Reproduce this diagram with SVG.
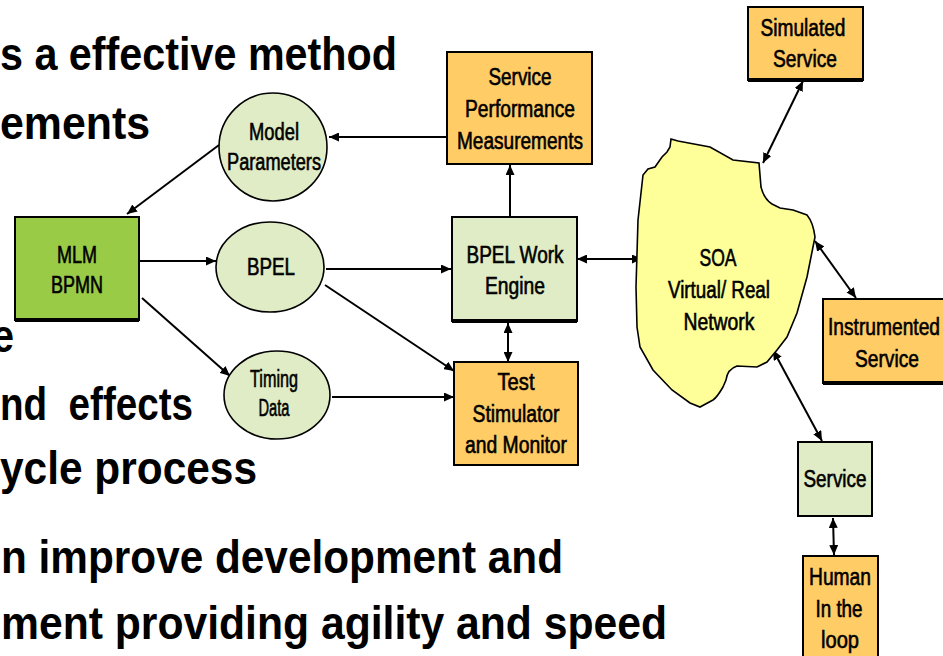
<svg xmlns="http://www.w3.org/2000/svg" width="943" height="656" viewBox="0 0 943 656">
  <style>
    .bullet { font-family: "Liberation Sans", Arial, sans-serif; font-weight: bold; font-size: 46px; fill: #000; white-space: pre; }
    .lbl { font-family: "Liberation Sans Narrow", "Liberation Sans", Arial, sans-serif; font-size: 23px; fill: #000; stroke: #000; stroke-width: 0.6; text-anchor: middle; }
    .orange { fill: #FFCC66; stroke: #000; stroke-width: 2; }
    .pale { fill: #DFECC5; stroke: #000; stroke-width: 2; }
    .bubble { fill: #DFECC5; stroke: #000; stroke-width: 1.6; }
    .mlm { fill: #9ACB47; stroke: #000; stroke-width: 2; }
    .cloud { fill: #FFFF99; stroke: #000; stroke-width: 1.6; }
    .shadow { stroke: #000; stroke-width: 4; }
    .conn line { stroke: #000; stroke-width: 2; fill: none; }
  </style>
  <defs>
    <marker id="head" markerUnits="userSpaceOnUse" markerWidth="11" markerHeight="9" refX="10" refY="4.5" orient="auto-start-reverse">
      <path d="M0,0 L10,4.5 L0,9 z" fill="#000"/>
    </marker>
  </defs>

  <rect width="943" height="656" fill="#fff"/>

  <!-- slide bullet text partly covered by the diagram -->
  <g id="bullets">
    <text class="bullet" x="0" y="70" textLength="397" lengthAdjust="spacingAndGlyphs">s a effective method</text>
    <text class="bullet" x="0" y="139" textLength="150" lengthAdjust="spacingAndGlyphs">ements</text>
    <text class="bullet" x="-8" y="352" textLength="22" lengthAdjust="spacingAndGlyphs">e</text>
    <text class="bullet" x="0" y="420" textLength="193" lengthAdjust="spacingAndGlyphs">nd  effects</text>
    <text class="bullet" x="0" y="484" textLength="257" lengthAdjust="spacingAndGlyphs">ycle process</text>
    <text class="bullet" x="1" y="573" textLength="562" lengthAdjust="spacingAndGlyphs">n improve development and</text>
    <text class="bullet" x="1" y="639" textLength="666" lengthAdjust="spacingAndGlyphs">ment providing agility and speed</text>
  </g>

  <!-- connectors -->
  <g id="connectors" class="conn">
    <line x1="447" y1="137" x2="329" y2="137" marker-end="url(#head)"/>
    <line x1="219" y1="145" x2="127" y2="214" marker-end="url(#head)"/>
    <line x1="140" y1="261" x2="216" y2="261" marker-end="url(#head)"/>
    <line x1="142" y1="298" x2="230" y2="376" marker-end="url(#head)"/>
    <line x1="326" y1="269" x2="451" y2="269" marker-end="url(#head)"/>
    <line x1="325" y1="285" x2="454" y2="371" marker-end="url(#head)"/>
    <line x1="332" y1="397" x2="454" y2="397" marker-end="url(#head)"/>
    <line x1="510" y1="217" x2="510" y2="165" marker-end="url(#head)"/>
    <line x1="508" y1="323" x2="508" y2="362" marker-start="url(#head)" marker-end="url(#head)"/>
    <line x1="577" y1="259" x2="642" y2="259" marker-start="url(#head)" marker-end="url(#head)"/>
    <line x1="763" y1="163" x2="803" y2="81" marker-start="url(#head)" marker-end="url(#head)"/>
    <line x1="815" y1="241" x2="856" y2="298" marker-start="url(#head)" marker-end="url(#head)"/>
    <line x1="773" y1="350" x2="822" y2="441" marker-start="url(#head)" marker-end="url(#head)"/>
    <line x1="833" y1="518" x2="834" y2="555" marker-start="url(#head)" marker-end="url(#head)"/>
  </g>

  <g id="model-parameters">
    <ellipse class="bubble" cx="273" cy="147" rx="54" ry="54"/>
    <text class="lbl" x="274" y="140" textLength="50" lengthAdjust="spacingAndGlyphs">Model</text>
    <text class="lbl" x="274" y="170" textLength="94" lengthAdjust="spacingAndGlyphs">Parameters</text>
  </g>

  <g id="service-performance">
    <rect class="orange" x="447" y="52" width="145" height="112"/>
    <text class="lbl" x="520" y="85" textLength="63" lengthAdjust="spacingAndGlyphs">Service</text>
    <text class="lbl" x="520" y="117" textLength="110" lengthAdjust="spacingAndGlyphs">Performance</text>
    <text class="lbl" x="520" y="149" textLength="126" lengthAdjust="spacingAndGlyphs">Measurements</text>
  </g>

  <g id="mlm-bpmn">
    <rect class="mlm" x="15" y="217" width="124" height="103"/>
    <line class="shadow" x1="15" y1="320" x2="139" y2="320"/>
    <text class="lbl" x="77" y="263" textLength="40" lengthAdjust="spacingAndGlyphs">MLM</text>
    <text class="lbl" x="77" y="293" textLength="52" lengthAdjust="spacingAndGlyphs">BPMN</text>
  </g>

  <g id="bpel">
    <ellipse class="bubble" cx="270" cy="267" rx="54" ry="45"/>
    <text class="lbl" x="271" y="275" textLength="48" lengthAdjust="spacingAndGlyphs">BPEL</text>
  </g>

  <g id="timing-data">
    <ellipse class="bubble" cx="277" cy="395" rx="53" ry="44"/>
    <text class="lbl" x="274" y="387" font-size="25" textLength="48" lengthAdjust="spacingAndGlyphs">Timing</text>
    <text class="lbl" x="274" y="416" font-size="25" textLength="31" lengthAdjust="spacingAndGlyphs">Data</text>
  </g>

  <g id="bpel-engine">
    <rect class="pale" x="452" y="217" width="125" height="104"/>
    <line class="shadow" x1="452" y1="321" x2="577" y2="321"/>
    <text class="lbl" x="515" y="263" textLength="97" lengthAdjust="spacingAndGlyphs">BPEL Work</text>
    <text class="lbl" x="515" y="294" textLength="60" lengthAdjust="spacingAndGlyphs">Engine</text>
  </g>

  <g id="test-stimulator">
    <rect class="orange" x="454" y="362" width="124" height="103"/>
    <text class="lbl" x="516" y="390" textLength="37" lengthAdjust="spacingAndGlyphs">Test</text>
    <text class="lbl" x="516" y="422" textLength="87" lengthAdjust="spacingAndGlyphs">Stimulator</text>
    <text class="lbl" x="516" y="453" textLength="102" lengthAdjust="spacingAndGlyphs">and Monitor</text>
  </g>

  <g id="soa-network">
    <path class="cloud" d="M671,139 L678,141 L710,147 L733,160 L759,163 L761,187 C763,195 766,200 772,204 L780,208 L793,210 L807,215 C812,221 814,229 815,237 L807,277 L797,313 L787,337 L777,350 L767,362 L757,367 L737,366 C731,368 727,372 726,380 L723,387 C719,394 716,398 713,400 L700,407 L690,403 L672,390 L653,370 L640,347 L637,327 L636,287 L638,220 L643,175 L648,169 L655,167 L662,157 L667,152 L670,147 Z"/>
    <text class="lbl" x="718" y="266" textLength="37" lengthAdjust="spacingAndGlyphs">SOA</text>
    <text class="lbl" x="719" y="298" textLength="102" lengthAdjust="spacingAndGlyphs">Virtual/ Real</text>
    <text class="lbl" x="719" y="330" textLength="71" lengthAdjust="spacingAndGlyphs">Network</text>
  </g>

  <g id="simulated-service">
    <rect class="orange" x="748" y="7" width="115" height="73"/>
    <line class="shadow" x1="748" y1="80" x2="863" y2="80"/>
    <text class="lbl" x="803" y="36" textLength="85" lengthAdjust="spacingAndGlyphs">Simulated</text>
    <text class="lbl" x="805" y="67" textLength="64" lengthAdjust="spacingAndGlyphs">Service</text>
  </g>

  <g id="instrumented-service">
    <rect class="orange" x="823" y="299" width="124" height="84"/>
    <line class="shadow" x1="823" y1="383" x2="947" y2="383"/>
    <text class="lbl" x="884" y="335" textLength="112" lengthAdjust="spacingAndGlyphs">Instrumented</text>
    <text class="lbl" x="887" y="367" textLength="64" lengthAdjust="spacingAndGlyphs">Service</text>
  </g>

  <g id="service">
    <rect class="pale" x="798" y="442" width="74" height="74"/>
    <text class="lbl" x="835" y="487" textLength="63" lengthAdjust="spacingAndGlyphs">Service</text>
  </g>

  <g id="human-in-loop">
    <rect class="orange" x="803" y="556" width="75" height="106"/>
    <text class="lbl" x="840" y="585" textLength="62" lengthAdjust="spacingAndGlyphs">Human</text>
    <text class="lbl" x="839" y="617" textLength="47" lengthAdjust="spacingAndGlyphs">In the</text>
    <text class="lbl" x="840" y="648" textLength="38" lengthAdjust="spacingAndGlyphs">loop</text>
  </g>
</svg>
